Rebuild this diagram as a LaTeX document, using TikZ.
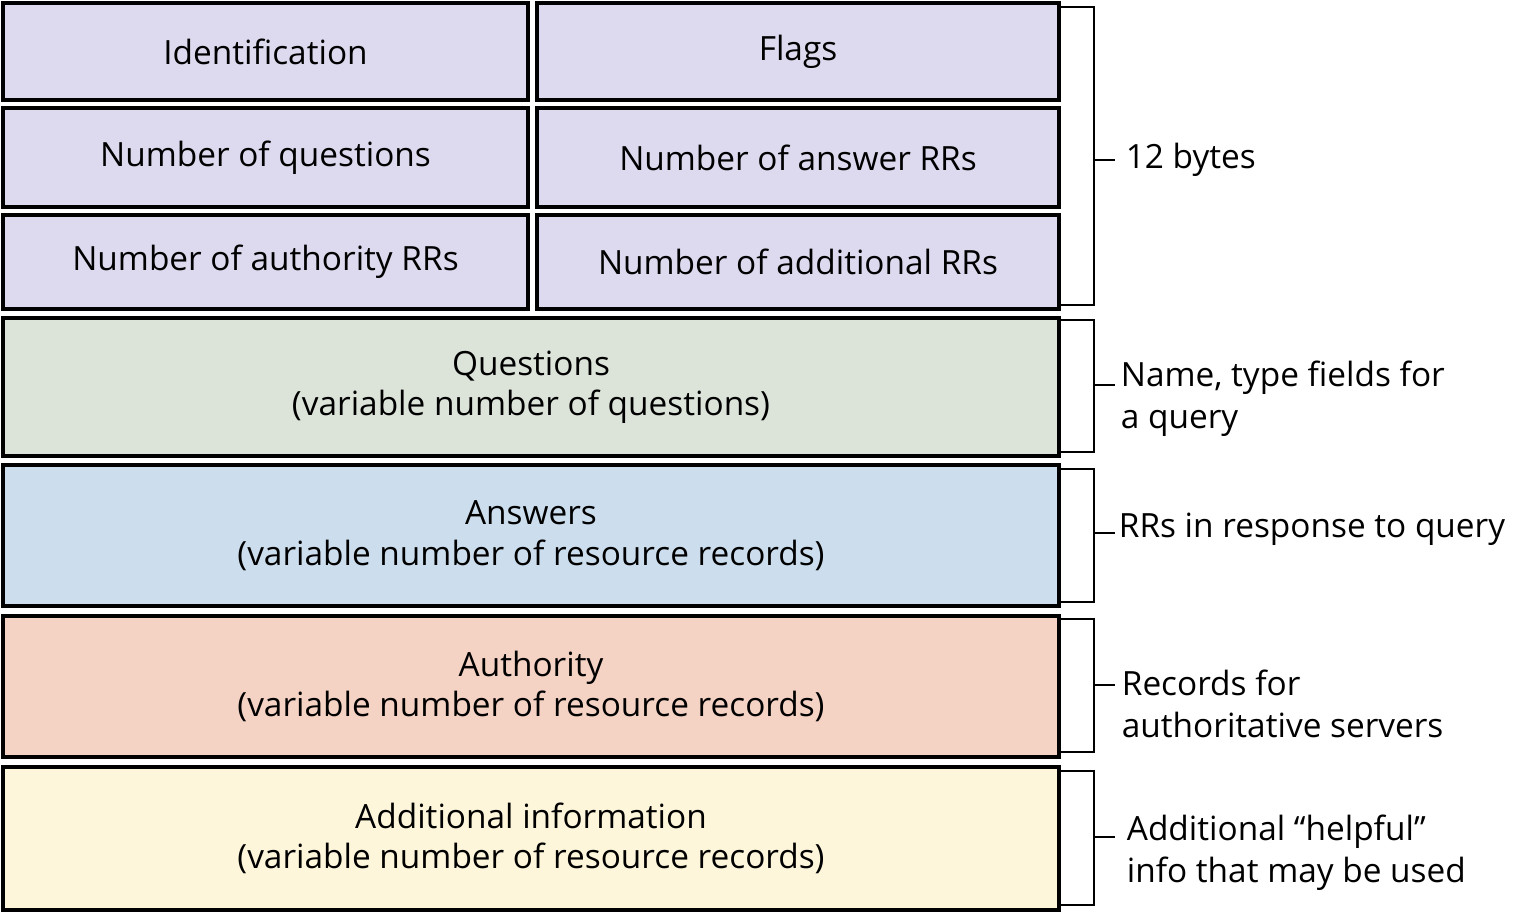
\documentclass[tikz,border=0pt]{standalone}
\usepackage{fontspec}
\setmainfont{Open Sans}
\usetikzlibrary{positioning, calc}
\definecolor{hdrlav}{RGB}{221,217,238}
\definecolor{qgreen}{RGB}{220,228,218}
\definecolor{ablue}{RGB}{204,222,238}
\definecolor{authpink}{RGB}{244,210,196}
\definecolor{addyellow}{RGB}{254,246,218}
\tikzset{
  field/.style={draw, line width=2.4pt, inner sep=0pt, align=center, font=\fontsize{19}{23}\selectfont},
  brace/.style={line width=0.8pt},
  note/.style={anchor=west, align=left, inner sep=2pt, font=\fontsize{19}{24}\selectfont}
}
\begin{document}
\begin{tikzpicture}[x=0.02cm, y=-0.02cm]
\useasboundingbox (0,0) rectangle (1533,913);
% Header fields
\node[field, fill=hdrlav, minimum width=525*0.02cm, minimum height=97*0.02cm] (ident) at (265.5,51.5) {Identification};
\node[field, fill=hdrlav, minimum width=522*0.02cm, minimum height=97*0.02cm] (flags) at (798,51.5) {Flags};
\node[field, fill=hdrlav, minimum width=525*0.02cm, minimum height=99*0.02cm] (nques) at (265.5,157.5) {Number of questions};
\node[field, fill=hdrlav, minimum width=522*0.02cm, minimum height=99*0.02cm] (nans) at (798,157.5) {Number of answer RRs};
\node[field, fill=hdrlav, minimum width=525*0.02cm, minimum height=94*0.02cm] (nauth) at (265.5,262) {Number of authority RRs};
\node[field, fill=hdrlav, minimum width=522*0.02cm, minimum height=94*0.02cm] (nadd) at (798,262) {Number of additional RRs};

% Variable sections
\node[field, fill=qgreen, minimum width=1056*0.02cm, minimum height=138*0.02cm] (quest) at (531,387) {Questions\\(variable number of questions)};
\node[field, fill=ablue, minimum width=1056*0.02cm, minimum height=141*0.02cm] (answ) at (531,535.5) {Answers\\(variable number of resource records)};
\node[field, fill=authpink, minimum width=1056*0.02cm, minimum height=141*0.02cm] (auth) at (531,686.5) {Authority\\(variable number of resource records)};
\node[field, fill=addyellow, minimum width=1056*0.02cm, minimum height=143*0.02cm] (addi) at (531,838.5) {Additional information\\(variable number of resource records)};

% Brackets
\foreach \top/\bot/\mid/\name in {7/305/160/bhdr, 320/452/385/bq, 469/602/533/ba, 619/752/685/bau, 771/905/837/bad} {
  \draw[brace] (1060,\top) -- (1094,\top) -- (1094,\bot) -- (1060,\bot);
  \draw[brace] (1094,\mid) -- (1115,\mid) coordinate (\name);
}
\node[note, anchor=west] (lhdr) at ($(bhdr)+(7,0)$) {12 bytes};
\node[note] (lq) at ($(bq)+(2,14)$) {Name, type fields for\\a query};
\node[note] (la) at ($(ba)+(0,-4)$) {RRs in response to query};
\node[note] (lau) at ($(bau)+(3,19)$) {Records for\\authoritative servers};
\node[note] (lad) at ($(bad)+(8,16)$) {Additional ``helpful''\\info that may be used};
\end{tikzpicture}
\end{document}
